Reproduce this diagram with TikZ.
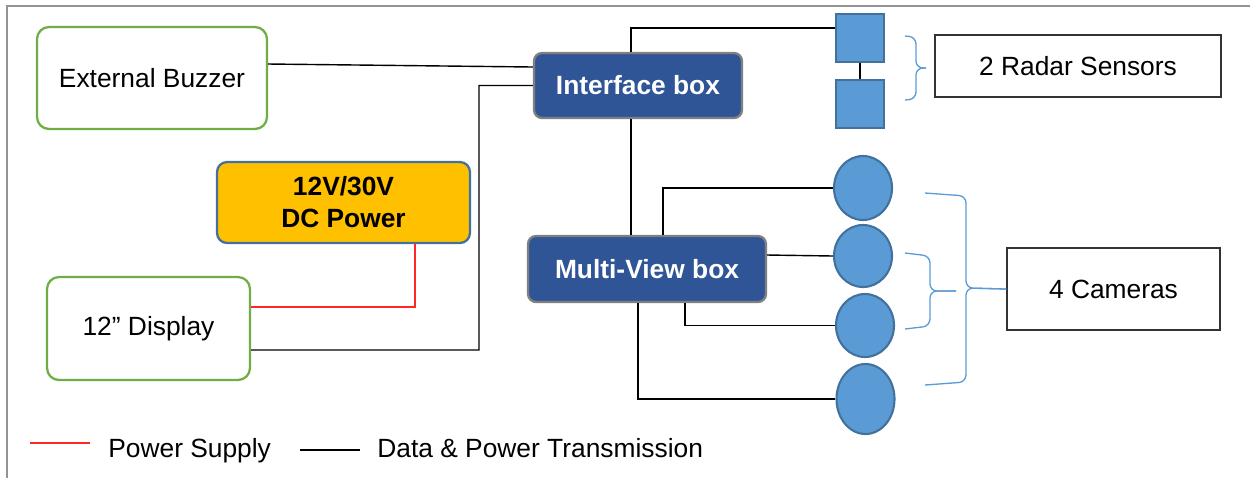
\documentclass[tikz,border=0pt]{standalone}
\usepackage{fontspec}
\setmainfont{Liberation Sans}
\usepackage{tikz}
\usetikzlibrary{shapes.geometric}

\definecolor{periphgreen}{HTML}{70AD47}
\definecolor{unitblue}{HTML}{2F5597}
\definecolor{sensblue}{HTML}{5B9BD5}
\definecolor{sensedge}{HTML}{41719C}
\definecolor{psuyellow}{HTML}{FFC000}

\begin{document}
\begin{tikzpicture}[x=0.02cm, y=-0.02cm, font=\fontsize{15}{18}\selectfont,
  periph/.style={draw=periphgreen, line width=1.3pt, rounded corners=0.24cm, fill=white, inner sep=0pt},
  unit/.style={draw=gray, fill=unitblue, line width=1.3pt, rounded corners=0.16cm, text=white, inner sep=0pt, font=\fontsize{15}{18}\selectfont\bfseries},
  radar/.style={draw=sensedge, fill=sensblue, line width=1.2pt, minimum size=0.96cm, inner sep=0pt},
  cam/.style={ellipse, draw=sensedge, fill=sensblue, line width=1.2pt, minimum width=1.16cm, minimum height=1.28cm, inner sep=0pt},
  lbl/.style={draw=black!80, line width=0.8pt, inner sep=0pt},
  wire/.style={black, line width=0.8pt},
  pwr/.style={red!85!white, line width=0.8pt},
  brace/.style={sensblue, line width=0.75pt, rounded corners=4pt}]
\useasboundingbox (0,0) rectangle (1250,478);
\draw[gray!85, line width=1.1pt] (7,478) -- (7,6) -- (1250,6);

% left hand side
\node[periph, minimum width=4.6cm, minimum height=2.04cm] (buzzer) at (152,78) {External Buzzer};
\node[periph, minimum width=4.06cm, minimum height=2.06cm] (display) at (148.5,328.5) {12” Display};
\node[draw=sensedge, fill=psuyellow, line width=1.3pt, rounded corners=0.2cm, inner sep=0pt,
  minimum width=5.06cm, minimum height=1.62cm, align=center, font=\fontsize{15}{18.2}\selectfont\bfseries] (psu) at (343.5,202.5) {12V/30V\\DC Power};

% the two boxes
\node[unit, minimum width=4.16cm, minimum height=1.3cm] (iface) at (638,85.5) {Interface box};
\node[unit, minimum width=4.76cm, minimum height=1.32cm] (mvbox) at (647,269) {Multi-View box};

% sensors
\node[radar] (radarA) at (860,38) {};
\node[radar] (radarB) at (860,104) {};
\node[cam] (camA) at (863,188) {};
\node[cam, minimum height=1.24cm] (camB) at (863,256) {};
\node[cam, minimum height=1.26cm] (camC) at (865,325.5) {};
\node[cam, minimum height=1.4cm] (camD) at (865.5,399) {};

\node[lbl, minimum width=5.72cm, minimum height=1.24cm] (radarlbl) at (1078,66) {2 Radar Sensors};
\node[lbl, minimum width=4.26cm, minimum height=1.64cm] (camlbl) at (1113.5,289) {4 Cameras};

% wiring
\draw[wire] ([yshift=0.28cm]buzzer.east) -- ([yshift=0.37cm]iface.west);
\draw[wire] (iface.west) -| (479,350) -- ([yshift=-0.43cm]display.east);
\draw[wire] ([xshift=-0.14cm]iface.north) |- ([yshift=0.2cm]radarA.west);
\draw[wire] (radarA.south) -- (radarB.north);
\draw[wire] ([xshift=-0.14cm]iface.south) -- ([xshift=-0.14cm]iface.south |- mvbox.north);
\draw[wire] ([xshift=0.32cm]mvbox.north) |- (camA.west);
\draw[wire] ([yshift=0.28cm]mvbox.east) -- (camB.west);
\draw[wire] ([xshift=0.76cm]mvbox.south) |- (camC.west);
\draw[wire] ([xshift=-0.18cm]mvbox.south) |- (camD.west);
\draw[pwr] ([xshift=1.43cm]psu.south) |- ([yshift=0.43cm]display.east);

% braces
\draw[brace] (905,36) -- (916,37) -- (916,68) -- (926,68);
\draw[brace] (905,100) -- (916,99) -- (916,68) -- (926,68);
\draw[brace] (925,193) -- (966,196) -- (966,288) -- (camlbl.west);
\draw[brace] (925,385) -- (966,382) -- (966,288) -- (camlbl.west);
\draw[brace] (905,253) -- (930,256) -- (930,291) -- (956,291);
\draw[brace] (905,329) -- (930,326) -- (930,291) -- (956,291);

% legend
\draw[pwr] (30,443) -- (90,443);
\node[anchor=base west, inner sep=0pt] (legpwr) at (108,457) {Power Supply};
\draw[wire, line width=1.3pt] (300,450) -- (360,450);
\node[anchor=base west, inner sep=0pt] (legdata) at (377,457) {Data \& Power Transmission};
\end{tikzpicture}
\end{document}
